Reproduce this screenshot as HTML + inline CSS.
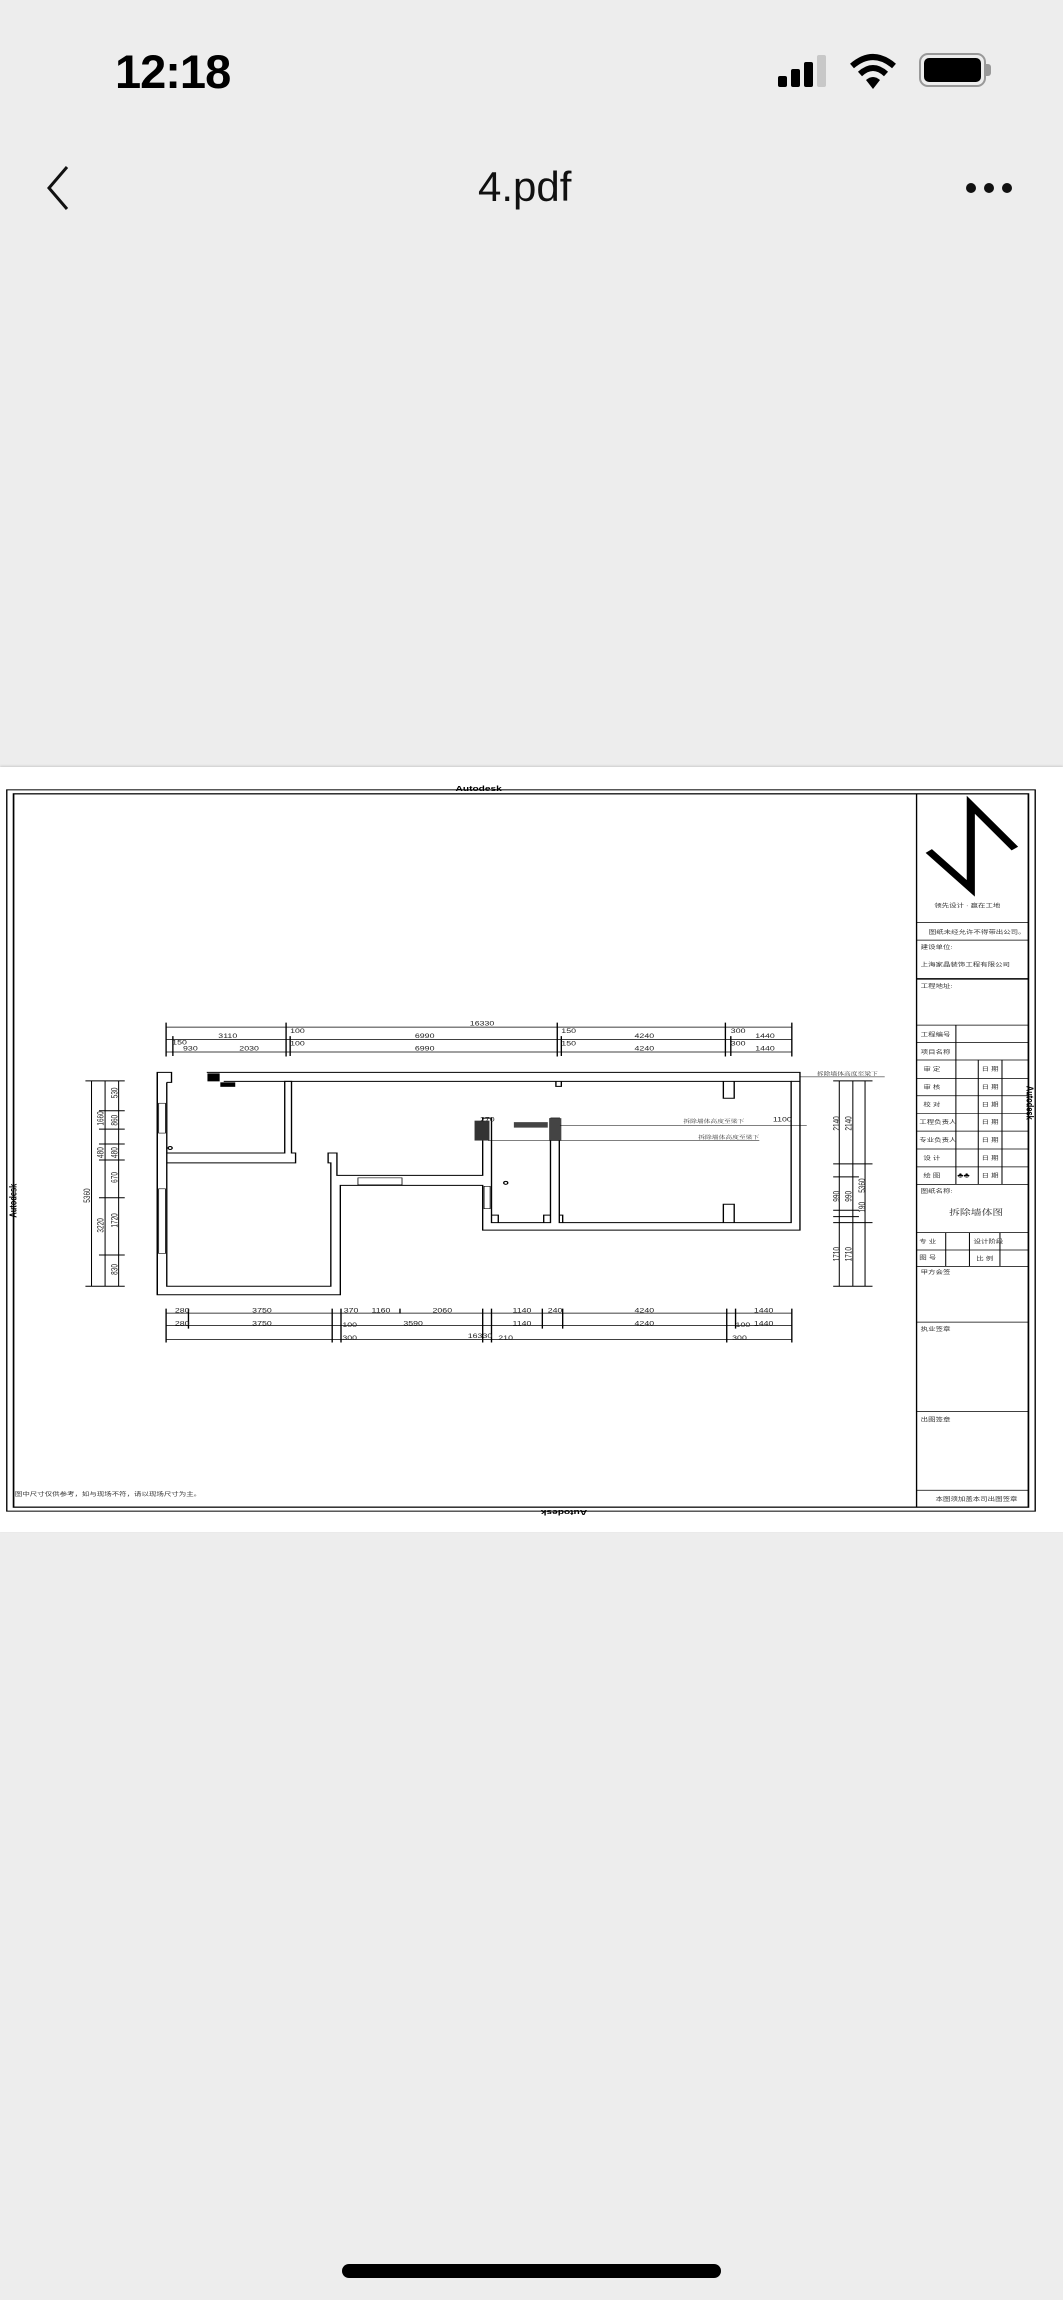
<!DOCTYPE html>
<html><head><meta charset="utf-8"><style>
html,body{margin:0;padding:0;background:#ededed;}
body{width:1063px;height:2300px;position:relative;overflow:hidden;font-family:"Liberation Sans","Noto Sans CJK SC",sans-serif;}
.abs{position:absolute;}
</style></head><body>
<div class="abs" style="left:115px;top:44px;font-size:47px;font-weight:bold;letter-spacing:-1px;color:#000;">12:18</div>
<!-- signal -->
<div class="abs" style="left:778px;top:76px;width:9px;height:11px;background:#000;border-radius:2px"></div>
<div class="abs" style="left:791px;top:69px;width:9px;height:18px;background:#000;border-radius:2px"></div>
<div class="abs" style="left:804px;top:62px;width:9px;height:25px;background:#000;border-radius:2px"></div>
<div class="abs" style="left:817px;top:55px;width:9px;height:32px;background:#c8c8c8;border-radius:2px"></div>
<svg class="abs" style="left:849px;top:52px" width="48" height="38" viewBox="0 0 48 38"><path d="M3 14 Q24 -4 45 14" stroke="#000" stroke-width="6" fill="none"/><path d="M11 22 Q24 10 37 22" stroke="#000" stroke-width="6" fill="none"/><path d="M17 28 L24 37 L31 28 Q24 22 17 28Z" fill="#000"/></svg>
<div class="abs" style="left:919px;top:53px;width:63px;height:30px;border:2px solid #999;border-radius:9px;"></div>
<div class="abs" style="left:924px;top:58px;width:57px;height:24px;background:#000;border-radius:5px;"></div>
<div class="abs" style="left:986px;top:64px;width:5px;height:12px;background:#999;border-radius:0 3px 3px 0"></div>
<svg class="abs" style="left:40px;top:162px" width="40" height="52"><path d="M27 5 L9 26 L27 47" stroke="#111" stroke-width="3" fill="none"/></svg>
<div class="abs" style="left:478px;top:163px;font-size:42px;color:#111;">4.pdf</div>
<div class="abs" style="left:966px;top:183px;width:10px;height:10px;background:#111;border-radius:50%"></div>
<div class="abs" style="left:984px;top:183px;width:10px;height:10px;background:#111;border-radius:50%"></div>
<div class="abs" style="left:1002px;top:183px;width:10px;height:10px;background:#111;border-radius:50%"></div>

<div class="abs" style="left:0;top:767px;width:1063px;height:765px;background:#fff;box-shadow:0 -1px 2px #ccc"></div>
<svg class="abs" style="left:0;top:760px" width="1063" height="780" viewBox="0 0 1568 1568" preserveAspectRatio="none" font-family="Liberation Sans, Noto Sans CJK SC, sans-serif">
<g fill="none" stroke="#000" stroke-width="2">
<rect x="10" y="60" width="1517" height="1450"/>
<rect x="20" y="68" width="1497" height="1434" stroke-width="2.5"/>
<line x1="1352" y1="68" x2="1352" y2="1502"/>
<g stroke-width="1.5">
<line x1="1352" y1="327" x2="1517" y2="327"/><line x1="1352" y1="362" x2="1517" y2="362"/>
<line x1="1352" y1="440" x2="1517" y2="440" stroke-width="3"/><line x1="1352" y1="533" x2="1517" y2="533"/>
<line x1="1352" y1="568" x2="1517" y2="568"/><line x1="1352" y1="603" x2="1517" y2="603"/>
<line x1="1352" y1="640" x2="1517" y2="640"/><line x1="1352" y1="675" x2="1517" y2="675"/>
<line x1="1352" y1="711" x2="1517" y2="711"/><line x1="1352" y1="746" x2="1517" y2="746"/>
<line x1="1352" y1="782" x2="1517" y2="782"/><line x1="1352" y1="818" x2="1517" y2="818"/>
<line x1="1352" y1="853" x2="1517" y2="853"/><line x1="1352" y1="950" x2="1517" y2="950"/>
<line x1="1352" y1="985" x2="1517" y2="985"/><line x1="1352" y1="1018" x2="1517" y2="1018"/>
<line x1="1352" y1="1130" x2="1517" y2="1130"/><line x1="1352" y1="1310" x2="1517" y2="1310"/>
<line x1="1352" y1="1468" x2="1517" y2="1468"/>
<line x1="1410" y1="533" x2="1410" y2="853"/><line x1="1443" y1="603" x2="1443" y2="853"/><line x1="1478" y1="603" x2="1478" y2="853"/>
<line x1="1395" y1="950" x2="1395" y2="1018"/><line x1="1430" y1="950" x2="1430" y2="1018"/><line x1="1475" y1="950" x2="1475" y2="1018"/>
</g>
</g>
<polyline points="1370,183 1432,258 1432,90 1497,178" fill="none" stroke="#000" stroke-width="12"/>
<g font-size="11" fill="#333">
<text x="1378" y="297">领先设计 · 赢在工地</text>
<text x="1370" y="350">图纸未经允许不得带出公司。</text>
<text x="1358" y="380">建设单位:</text>
<text x="1358" y="415">上海家晶装饰工程有限公司</text>
<text x="1358" y="458">工程地址:</text>
<text x="1358" y="556">工程编号</text><text x="1358" y="591">项目名称</text>
<text x="1362" y="625">审 定</text><text x="1362" y="661">审 核</text><text x="1362" y="697">校 对</text>
<text x="1356" y="732">工程负责人</text><text x="1356" y="768">专业负责人</text><text x="1362" y="804">设 计</text><text x="1362" y="839">绘 图</text>
<text x="1448" y="625">日 期</text><text x="1448" y="661">日 期</text><text x="1448" y="697">日 期</text><text x="1448" y="732">日 期</text><text x="1448" y="768">日 期</text><text x="1448" y="804">日 期</text><text x="1448" y="839">日 期</text>
<text x="1358" y="870">图纸名称:</text>
<text x="1400" y="915" font-size="16" font-family="Liberation Serif, Noto Serif CJK SC, serif">拆除墙体图</text>
<text x="1356" y="972">专 业</text><text x="1436" y="972">设计阶段</text>
<text x="1356" y="1004">图 号</text><text x="1440" y="1006">比 例</text>
<text x="1358" y="1033">甲方会签</text><text x="1358" y="1148">执业签章</text><text x="1358" y="1330">出图签章</text>
<text x="1380" y="1490">本图须加盖本司出图签章</text>
<text x="22" y="1480">图中尺寸仅供参考，如与现场不符，请以现场尺寸为主。</text>
</g>
<text x="1412" y="839" font-size="14">♣♣</text>
<text x="672" y="62" font-size="15" font-weight="bold">Autodesk</text>
<text x="0" y="0" font-size="15" font-weight="bold" transform="translate(866,1508) rotate(180)">Autodesk</text>
<text x="0" y="0" font-size="15" font-weight="bold" transform="translate(24,920) rotate(-90)">Autodesk</text>
<text x="0" y="0" font-size="15" font-weight="bold" transform="translate(1514,655) rotate(90)">Autodesk</text>

<!-- walls -->
<g fill="none" stroke="#000" stroke-width="2">
<polyline points="305,628 1180,628 1180,945 712,945 712,855 502,855 502,1075 232,1075 232,628 253,628 253,648 246,648"/>
<polyline points="330,646 1167,646 1167,930 825,930 825,720 812,720"/>
<line x1="1167" y1="646" x2="1180" y2="646"/>
<polyline points="246,648 246,1058 488,1058 488,810 484,810 484,790 497,790 497,835 712,835 712,720 725,720 725,930 812,930 812,720"/>
<polyline points="246,790 420,790 420,646 430,646 430,790 436,790 436,810 246,810"/>
<line x1="232" y1="628" x2="232" y2="1075"/>
<rect x="528" y="840" width="65" height="14" stroke-width="1.2"/>
<rect x="714" y="857" width="9" height="45" stroke-width="1.2"/>
<rect x="234" y="690" width="10" height="60" stroke-width="1.2"/>
<rect x="234" y="862" width="10" height="130" stroke-width="1.2"/>
<polyline points="1067,646 1067,680 1083,680 1083,646"/>
<polyline points="1067,930 1067,893 1083,893 1083,930"/>
<polyline points="820,646 820,656 828,656 828,646"/>
<polyline points="725,915 735,915 735,930"/><polyline points="812,915 802,915 802,930"/>
<polyline points="825,915 830,915 830,930"/>
<circle cx="746" cy="850" r="3"/><circle cx="251" cy="780" r="3"/>
</g>
<rect x="306" y="630" width="18" height="16" fill="#000"/>
<rect x="325" y="648" width="22" height="9" fill="#000"/>
<rect x="700" y="725" width="22" height="40" fill="#333"/>
<rect x="758" y="728" width="50" height="11" fill="#444"/>
<rect x="810" y="720" width="18" height="45" fill="#444"/>
<g stroke="#000" stroke-width="1"><line x1="826" y1="735" x2="1190" y2="735"/><line x1="720" y1="765" x2="1120" y2="765"/><line x1="1180" y1="637" x2="1305" y2="637"/></g>
<g font-size="10" fill="#333" font-family="Liberation Serif, Noto Serif CJK SC, serif">
<text x="1205" y="634">拆除墙体高度至梁下</text><text x="1008" y="730">拆除墙体高度至梁下</text><text x="1030" y="762">拆除墙体高度至梁下</text>
</g>

<!-- dimensions -->
<g stroke="#000" stroke-width="1.5">
<line x1="245" y1="537" x2="1168" y2="537"/><line x1="245" y1="562" x2="1168" y2="562"/><line x1="245" y1="587" x2="1168" y2="587"/>
<line x1="245" y1="1112" x2="1168" y2="1112"/><line x1="245" y1="1137" x2="1168" y2="1137"/><line x1="245" y1="1165" x2="1168" y2="1165"/>
<line x1="135" y1="645" x2="135" y2="1058"/><line x1="155" y1="645" x2="155" y2="1058"/><line x1="175" y1="645" x2="175" y2="1058"/>
<line x1="1238" y1="645" x2="1238" y2="1058"/><line x1="1258" y1="645" x2="1258" y2="1058"/><line x1="1276" y1="645" x2="1276" y2="1058"/>
</g>
<g stroke="#000" stroke-width="2">
<path d="M245 528v68M255 555v40M422 528v68M428 555v40M822 528v68M828 555v40M1070 528v68M1078 555v40M1168 528v68"/>
<path d="M245 1103v68M278 1103v40M490 1103v68M503 1103v68M590 1103v10M712 1103v68M725 1103v68M800 1103v40M830 1103v40M1072 1103v68M1085 1103v40M1168 1103v68"/>
<path d="M126 645h58M126 1058h58M146 705h38M146 742h38M146 772h38M146 804h38M146 880h38M146 995h38"/>
<path d="M1229 645h58M1229 1058h58M1229 812h58M1229 838h38M1229 905h38M1229 918h38M1229 930h58"/>
</g>
<g font-size="13" fill="#222" font-family="Liberation Sans Narrow, Liberation Sans, sans-serif">
<text x="693" y="534">16330</text><text x="322" y="559">3110</text><text x="428" y="549">100</text><text x="612" y="559">6990</text><text x="828" y="549">150</text><text x="936" y="559">4240</text><text x="1078" y="549">300</text><text x="1114" y="559">1440</text>
<text x="254" y="572">150</text><text x="270" y="584">930</text><text x="353" y="584">2030</text><text x="428" y="574">100</text><text x="612" y="584">6990</text><text x="828" y="574">150</text><text x="936" y="584">4240</text><text x="1078" y="574">300</text><text x="1114" y="584">1440</text>
<text x="258" y="1111">280</text><text x="372" y="1111">3750</text><text x="507" y="1111">370</text><text x="548" y="1111">1160</text><text x="638" y="1111">2060</text><text x="756" y="1111">1140</text><text x="808" y="1111">240</text><text x="936" y="1111">4240</text><text x="1112" y="1111">1440</text>
<text x="258" y="1137">280</text><text x="372" y="1137">3750</text><text x="505" y="1140">100</text><text x="595" y="1137">3590</text><text x="756" y="1137">1140</text><text x="936" y="1137">4240</text><text x="1085" y="1140">100</text><text x="1112" y="1137">1440</text>
<text x="505" y="1166">300</text><text x="690" y="1162">16330</text><text x="735" y="1166">210</text><text x="1080" y="1166">300</text>
</g>
<g font-size="13" fill="#222">
<text transform="translate(133,890) rotate(-90)">5360</text><text transform="translate(153,735) rotate(-90)">1660</text><text transform="translate(153,950) rotate(-90)">3220</text>
<text transform="translate(173,680) rotate(-90)">530</text><text transform="translate(173,735) rotate(-90)">860</text><text transform="translate(173,800) rotate(-90)">480</text><text transform="translate(173,850) rotate(-90)">670</text><text transform="translate(173,940) rotate(-90)">1720</text><text transform="translate(173,1035) rotate(-90)">830</text><text transform="translate(153,800) rotate(-90)">480</text>
<text transform="translate(1238,745) rotate(-90)">2140</text><text transform="translate(1256,745) rotate(-90)">2140</text><text transform="translate(1276,870) rotate(-90)">5360</text>
<text transform="translate(1238,888) rotate(-90)">990</text><text transform="translate(1256,888) rotate(-90)">990</text><text transform="translate(1276,910) rotate(-90)">190</text>
<text transform="translate(1238,1008) rotate(-90)">1710</text><text transform="translate(1256,1008) rotate(-90)">1710</text>
<text x="1140" y="727">1100</text><text x="708" y="727">270</text>
</g>
</svg>
<div class="abs" style="left:342px;top:2264px;width:379px;height:14px;background:#000;border-radius:7px"></div>
</body></html>
